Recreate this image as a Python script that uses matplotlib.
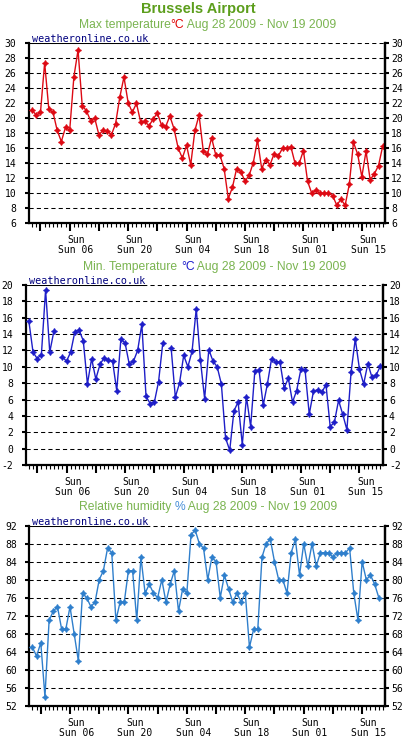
import numpy as np
import pandas as pd
import matplotlib
matplotlib.use("Agg")
import matplotlib.pyplot as plt
from matplotlib.offsetbox import TextArea, HPacker, AnchoredOffsetbox
from matplotlib.transforms import ScaledTranslation

nan = np.nan

# daily values, first day Aug 28 2009
start_date = "2009-08-28"

tmax = [21.1, 20.4, 20.8, 27.4, 21.2, 20.8, 18.4, 16.9, 18.8, 18.4,
        25.5, 29.1, 21.7, 21.0, 19.7, 20.0, 17.8, 18.4, 18.3, 17.8,
        19.3, 22.8, 25.5, 22.1, 20.8, 22.0, 19.5, 19.6, 19.0, 19.9,
        20.7, 19.1, 18.9, 20.3, 18.6, 16.0, 14.7, 16.4, 13.8, 18.4,
        20.4, 15.7, 15.2, 17.4, 15.1, 15.1, 13.3, 9.3, 10.8, 13.3,
        12.9, 11.6, 12.4, 14.1, 17.1, 13.3, 14.5, 13.8, 15.3, 15.0,
        16.0, 16.0, 16.2, 14.0, 14.0, 15.7, 11.6, 10.0, 10.4, 10.0,
        10.0, 10.0, 9.7, 8.4, 9.2, 8.4, 11.2, 16.8, 15.2, 12.2,
        15.6, 11.8, 12.6, 13.7, 16.3]

tmin = [15.6, 11.8, 11.0, 11.5, 19.4, 11.8, 14.4, nan, 11.2, 10.7,
        11.8, 14.3, 14.5, 13.2, 7.9, 11.0, 8.5, 10.3, 11.1, 10.8,
        10.7, 7.1, 13.4, 12.9, 10.3, 10.7, 12.0, 15.2, 6.4, 5.5,
        5.7, 8.2, 12.9, nan, 12.3, 6.3, 8.0, 11.4, 10.0, 11.9,
        17.1, 10.8, 6.1, 12.1, 10.7, 10.0, 7.9, 1.3, -0.2, 4.6,
        5.7, 0.5, 6.3, 2.7, 9.5, 9.6, 5.3, 7.9, 11.0, 10.6,
        10.6, 7.4, 8.6, 5.7, 7.1, 9.7, 9.6, 4.2, 7.0, 7.2,
        6.9, 7.8, 2.7, 3.2, 5.9, 4.2, 2.3, 9.4, 13.4, 9.7,
        7.9, 10.4, 8.7, 9.0, 10.1]

humidity = [65, 63, 66, 54, 71, 73, 74, 69, 69, 74,
            68, 62, 77, 76, 74, 75, 80, 82, 87, 86,
            71, 75, 75, 82, 82, 71, 85, 77, 79, 77,
            76, 80, 75, 79, 82, 73, 78, 77, 90, 91,
            88, 87, 80, 85, 84, 76, 81, 78, 75, 77,
            75, 77, 65, 69, 69, 85, 88, 89, 84, 80,
            80, 77, 86, 89, 81, 88, 83, 88, 83, 86,
            86, 86, 85, 86, 86, 86, 87, 77, 71, 84,
            80, 81, 79, 76]

period = " Aug 28 2009 - Nov 19 2009"
title = "Brussels Airport"
site = "weatheronline.co.uk"

GREEN = "#5c9e1c"
SUBGREEN = "#7ab450"
MONO = "DejaVu Sans Mono"
SANS = "Liberation Sans"

dates = pd.date_range(start_date, periods=len(tmax))
days = np.arange(len(tmax))
sundays = days[dates.dayofweek == 6]
sun_labels = []
for k, d in enumerate(sundays):
    if k % 2 == 1:
        sun_labels.append("Sun\nSun %02d" % dates[d].day)
    else:
        sun_labels.append("")

fig = plt.figure(figsize=(4.2, 7.4), dpi=100)
W, H = 420.0, 740.0


def panel(left, top, right, bottom, values, color, ylim, yticks):
    ax = fig.add_axes([left / W, 1 - bottom / H, (right - left) / W, (bottom - top) / H])
    x = np.arange(len(values))
    ax.plot(x, values, color=color, lw=1.0, marker=(4, 1, 0), ms=4.2,
            mec=color, mfc=color, mew=0.8, zorder=3)
    ax.set_xlim(-0.75, 84.55)
    ax.set_ylim(*ylim)

    for t in yticks[1:]:
        ax.axhline(t, color="black", lw=0.75, ls=(0, (4, 3)), zorder=1)
    ax.axhline(ylim[1], xmin=0.008, xmax=0.33, color="black", lw=0.75, zorder=1)

    for s in ["left", "right", "bottom"]:
        ax.spines[s].set_linewidth(1.6)
    ax.spines["top"].set_visible(False)

    ax.set_yticks(yticks)
    ax.set_yticklabels([str(t) for t in yticks], fontfamily=MONO, fontsize=7)
    ax.tick_params(axis="y", direction="out", length=3, width=1.5, pad=6)

    ax2 = ax.twinx()
    ax2.set_ylim(*ylim)
    ax2.set_yticks(yticks)
    ax2.set_yticklabels([str(t) for t in yticks], fontfamily=MONO, fontsize=7)
    ax2.tick_params(axis="y", direction="out", length=3, width=1.5, pad=1.5)
    for s in ["left", "top", "bottom"]:
        ax2.spines[s].set_visible(False)
    ax2.spines["right"].set_linewidth(1.6)

    ax.set_xticks(sundays)
    ax.set_xticks(days, minor=True)
    ax.set_xticklabels(sun_labels, fontfamily=MONO, fontsize=7, linespacing=1.0)
    ax.tick_params(axis="x", which="major", direction="out", length=6, width=1.5, pad=2.5)
    ax.tick_params(axis="x", which="minor", direction="out", length=3, width=0.8)
    shift = ScaledTranslation(6.4 / 100, 0, fig.dpi_scale_trans)
    for lbl in ax.get_xticklabels():
        lbl.set_transform(lbl.get_transform() + shift)

    ax.text(0.008, 1.006, site, transform=ax.transAxes, ha="left", va="baseline",
            color="#00007f", fontfamily=MONO, fontsize=7.3)
    return ax


def subtitle(cx, cy, name, unit, unit_color):
    size = 8.7
    parts = [TextArea(name, textprops=dict(color=SUBGREEN, size=size, family=SANS)),
             TextArea(unit, textprops=dict(color=unit_color, size=size, family=SANS)),
             TextArea(period, textprops=dict(color=SUBGREEN, size=size, family=SANS))]
    box = HPacker(children=parts, align="baseline", pad=0, sep=0)
    anch = AnchoredOffsetbox(loc="center", child=box, pad=0, borderpad=0, frameon=False,
                             bbox_to_anchor=(cx / W, 1 - cy / H),
                             bbox_transform=fig.transFigure)
    fig.add_artist(anch)


fig.text(198 / W, 1 - 9.5 / H, title, ha="center", va="center", fontweight="bold",
         fontsize=10.5, color=GREEN, fontfamily=SANS)

subtitle(207.5, 25, "Max temperature", "°C", "#e00000")
panel(29, 43.3, 385, 223.3, tmax, "#dd0a14", (6, 30), list(range(6, 31, 2)))

subtitle(215, 267, "Min. Temperature ", "°C", "#1a1acc")
panel(25.7, 285, 382.7, 465, tmin, "#1e1ec8", (-2, 20), list(range(-2, 21, 2)))

subtitle(208, 507, "Relative humidity ", "%", "#4a90d8")
panel(29.3, 525.7, 385.3, 705.7, humidity, "#2f7fcc", (52, 92), list(range(52, 93, 4)))

fig.savefig("out.png", dpi=100)
